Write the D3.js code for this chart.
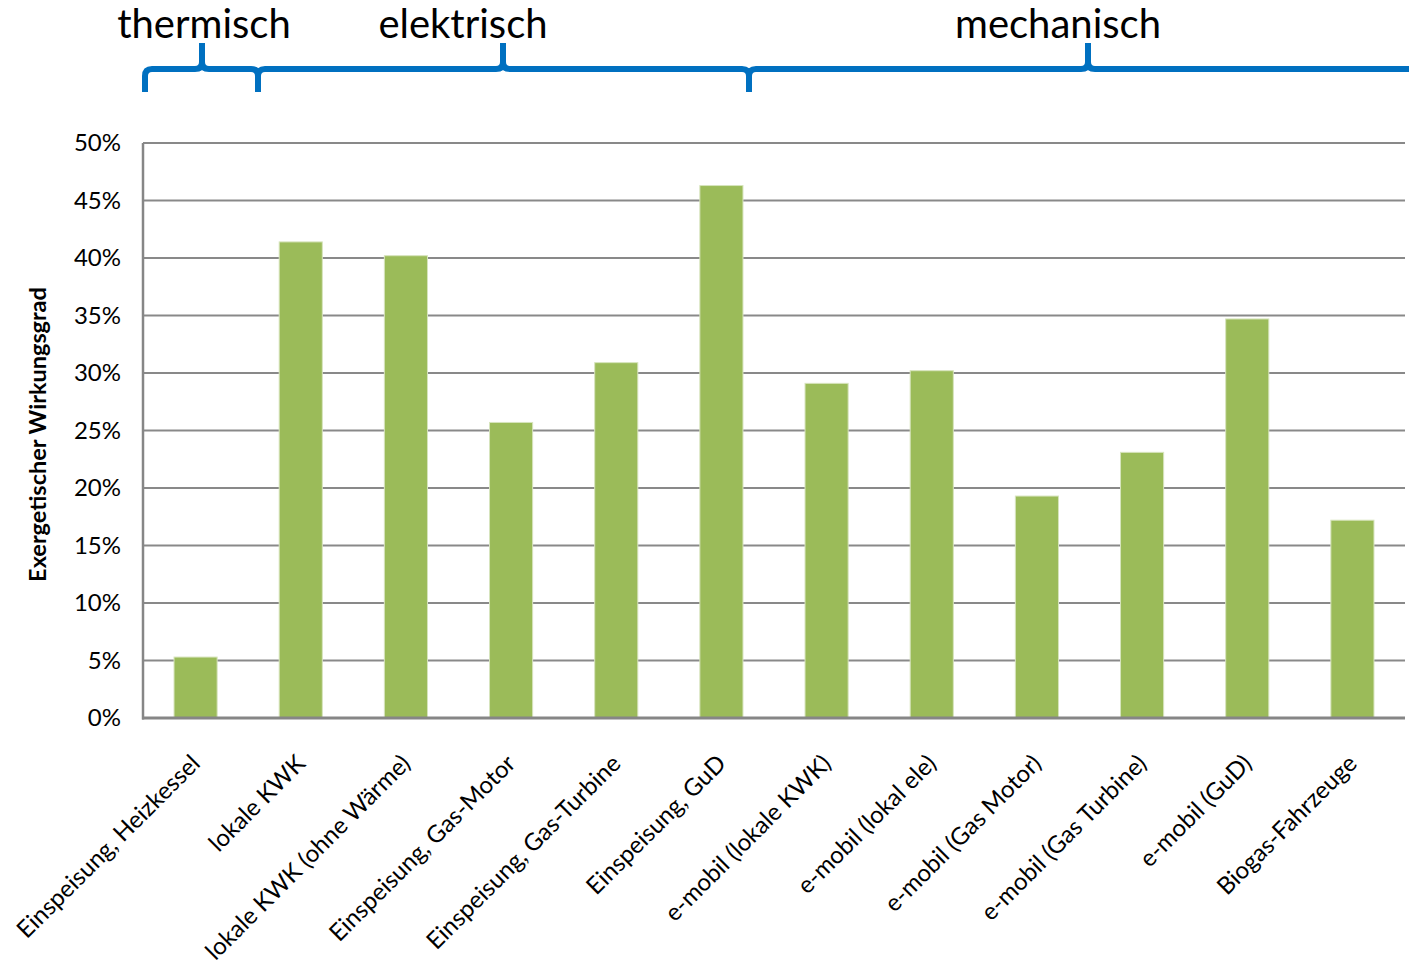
<!DOCTYPE html>
<html>
<head>
<meta charset="utf-8">
<script src="https://cdn.jsdelivr.net/npm/d3@7"></script>
<style>
  html, body { margin: 0; padding: 0; background: #ffffff; }
  svg { display: block; font-family: Lato, "Open Sans", sans-serif; }
</style>
</head>
<body>
<svg id="chart" width="1409" height="964"></svg>
<script>
// Exergetischer Wirkungsgrad je Nutzungspfad
const categories = [
  "Einspeisung, Heizkessel",
  "lokale KWK",
  "lokale KWK (ohne Wärme)",
  "Einspeisung, Gas-Motor",
  "Einspeisung, Gas-Turbine",
  "Einspeisung, GuD",
  "e-mobil (lokale KWK)",
  "e-mobil (lokal ele)",
  "e-mobil (Gas Motor)",
  "e-mobil (Gas Turbine)",
  "e-mobil (GuD)",
  "Biogas-Fahrzeuge"
];
const efficiency = [0.053, 0.414, 0.402, 0.257, 0.309, 0.463, 0.291, 0.302, 0.193, 0.231, 0.347, 0.172];

const yTickValues = [0, 0.05, 0.10, 0.15, 0.20, 0.25, 0.30, 0.35, 0.40, 0.45, 0.50];
const yTickLabels = ["0%", "5%", "10%", "15%", "20%", "25%", "30%", "35%", "40%", "45%", "50%"];
const yAxisTitle = "Exergetischer Wirkungsgrad";

const groupLabels = ["thermisch", "elektrisch", "mechanisch"];

// Layout
const plot = { left: 143, right: 1405, top: 143, bottom: 718 };
// Brace geometry (pixel layout): start, end, tip position, label centre
const braceLayout = [
  { x0: 145, x1: 258, tip: 202, labelX: 204 },
  { x0: 258, x1: 749, tip: 503, labelX: 463 },
  { x0: 749, x1: 1440, tip: 1088, labelX: 1058 }
];
const barColor = "#9BBB59";
const gridColor = "#898989";
const braceColor = "#0070C0";

const svg = d3.select("#chart");

const x = d3.scaleBand()
  .domain(categories)
  .range([plot.left, plot.right])
  .paddingInner(0.59)
  .paddingOuter(0.295);

const y = d3.scaleLinear()
  .domain([0, 0.5])
  .range([plot.bottom, plot.top]);

// Horizontal gridlines
svg.append("g")
  .selectAll("line")
  .data(yTickValues.filter(v => v > 0))
  .join("line")
  .attr("x1", plot.left)
  .attr("x2", plot.right)
  .attr("y1", d => y(d))
  .attr("y2", d => y(d))
  .attr("stroke", gridColor)
  .attr("stroke-width", 2);

// Bars
svg.append("g")
  .selectAll("rect")
  .data(efficiency)
  .join("rect")
  .attr("x", (d, i) => x(categories[i]))
  .attr("width", x.bandwidth())
  .attr("y", d => y(d))
  .attr("height", d => plot.bottom - y(d))
  .attr("fill", barColor)
  .attr("stroke", "#d7e4bd")
  .attr("stroke-width", 1);

// Y axis
const yAxis = d3.axisLeft(y)
  .tickValues(yTickValues)
  .tickFormat((d, i) => yTickLabels[i])
  .tickSize(0)
  .tickPadding(22);

const gy = svg.append("g")
  .attr("transform", `translate(${plot.left},0)`)
  .call(yAxis);
gy.select(".domain").remove();
gy.selectAll("text")
  .attr("font-family", "Lato, sans-serif")
  .attr("font-size", 24)
  .attr("fill", "#000");

svg.append("line")
  .attr("x1", plot.left).attr("x2", plot.left)
  .attr("y1", plot.top).attr("y2", plot.bottom + 1.5)
  .attr("stroke", "#868686").attr("stroke-width", 2.5);

// X axis
const xAxis = d3.axisBottom(x).tickSize(0).tickFormat(d => d);
const gx = svg.append("g")
  .attr("transform", `translate(0,${plot.bottom})`)
  .call(xAxis);
gx.select(".domain").remove();
gx.selectAll("text")
  .attr("font-family", "Lato, sans-serif")
  .attr("font-size", 24)
  .attr("fill", "#000")
  .attr("text-anchor", "end")
  .attr("dy", "0.35em")
  .attr("y", 0)
  .attr("transform", "translate(0,41) rotate(-45)");

svg.append("line")
  .attr("x1", plot.left - 1).attr("x2", plot.right)
  .attr("y1", plot.bottom).attr("y2", plot.bottom)
  .attr("stroke", "#868686").attr("stroke-width", 3);

// Y axis title
svg.append("text")
  .attr("transform", `translate(46,${(plot.top + plot.bottom) / 2 + 4}) rotate(-90)`)
  .attr("text-anchor", "middle")
  .attr("font-family", "Lato, sans-serif")
  .attr("font-weight", "bold")
  .attr("font-size", 23.5)
  .attr("fill", "#000")
  .text(yAxisTitle);

// Group braces
const braceY = 69, braceEnd = 92, tipY = 43, r = 7;
function bracePath(b) {
  return [
    `M${b.x0},${braceEnd}`,
    `L${b.x0},${braceY + r}`,
    `Q${b.x0},${braceY} ${b.x0 + r},${braceY}`,
    `L${b.tip - r},${braceY}`,
    `Q${b.tip},${braceY} ${b.tip},${braceY - r}`,
    `L${b.tip},${tipY}`,
    `M${b.tip},${braceY - r}`,
    `Q${b.tip},${braceY} ${b.tip + r},${braceY}`,
    `L${b.x1 - r},${braceY}`,
    `Q${b.x1},${braceY} ${b.x1},${braceY + r}`,
    `L${b.x1},${braceEnd}`
  ].join(" ");
}

svg.append("g")
  .selectAll("path")
  .data(braceLayout)
  .join("path")
  .attr("d", bracePath)
  .attr("fill", "none")
  .attr("stroke", braceColor)
  .attr("stroke-width", 6)
  .attr("stroke-linejoin", "round");

svg.append("g")
  .selectAll("text")
  .data(groupLabels)
  .join("text")
  .attr("x", (d, i) => braceLayout[i].labelX)
  .attr("y", 38)
  .attr("text-anchor", "middle")
  .attr("font-family", "Lato, sans-serif")
  .attr("font-size", 40)
  .attr("fill", "#000")
  .text(d => d);
</script>
</body>
</html>
